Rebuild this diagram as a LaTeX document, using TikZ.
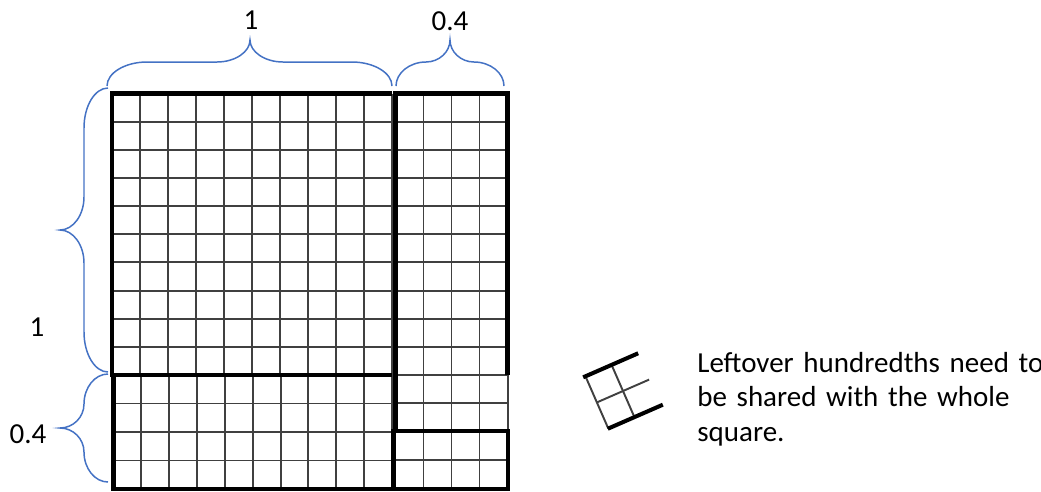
\documentclass[tikz,border=0pt]{standalone}
\usepackage{fontspec}
\setmainfont{Carlito}
\usepackage{tikz}
\usetikzlibrary{positioning}
\definecolor{braceblue}{RGB}{68, 114, 196}
\definecolor{gridgray}{RGB}{64, 64, 64}
\tikzset{
  gridline/.style = {draw=gridgray, line width=1.1pt},
  edge/.style     = {draw=black, line width=2.3pt},
  brace/.style    = {draw=braceblue, line width=0.85pt},
  lbl/.style      = {font=\fontsize{16.5}{19.8}\selectfont, inner sep=0pt},
  note/.style     = {font=\fontsize{16.5}{19.8}\selectfont, inner sep=0pt,
                     text width=8cm, align=left},
}

\begin{document}
\begin{tikzpicture}[x=0.02cm, y=-0.02cm]

  \useasboundingbox (0,0) rectangle (1041,491);

  %% Whole square, 10 x 10
  \foreach \i in {1,...,9} {
    \draw[gridline] (112+28*\i,93.5) -- (112+28*\i,375);
    \draw[gridline] (112,93.5+28.15*\i) -- (392,93.5+28.15*\i);
  }
  \draw[gridline] (392,93.5) -- (392,375);

  %% Bottom strip, 10 x 4
  \foreach \i in {1,...,9}
    \draw[gridline] (113.5+27.85*\i,375) -- (113.5+27.85*\i,489);
  \foreach \j in {1,2,3}
    \draw[gridline] (113.5,375+28.5*\j) -- (392,375+28.5*\j);
  \draw[gridline] (392,375) -- (392,489);

  %% Right strip, 4 x 10 plus leftover rows
  \foreach \i in {1,2,3}
    \draw[gridline] (395.5+28*\i,93.5) -- (395.5+28*\i,489);
  \foreach \j in {1,...,10}
    \draw[gridline] (395.5,93.5+28.15*\j) -- (507.5,93.5+28.15*\j);
  \draw[gridline] (395.5,403) -- (508,403);
  \draw[gridline] (394,460) -- (508,460);
  \draw[gridline] (508,375) -- (508,431);

  %% Thick outlines
  \draw[edge] (392,93.5) -- (112,93.5) -- (112,375) -- (392,375);
  \draw[edge] (392,375) -- (113.5,375) -- (113.5,489) -- (392,489);
  \draw[edge] (395.5,431) -- (395.5,93.5) -- (507.5,93.5) -- (507.5,375);
  \draw[edge] (393.5,431) rectangle (508,489);

  %% Braces
  \draw[brace] (107,86) .. controls (107,73) and (125,62) .. (147,62)
    -- (217,62) .. controls (235,62) and (250,52) .. (250,40)
    .. controls (250,52) and (265,62) .. (283,62)
    -- (352,62) .. controls (374,62) and (392,73) .. (392,86);
  \draw[brace] (396,86) .. controls (396,73) and (409.5,62) .. (426,62)
    .. controls (439,62) and (450,52) .. (450,40)
    .. controls (450,52) and (461,62) .. (474,62)
    .. controls (490.5,62) and (504,73) .. (504,86);
  \draw[brace] (108,88) .. controls (94.8,88) and (84,106) .. (84,128)
    -- (84,197) .. controls (84,215) and (73.2,230) .. (60,230)
    .. controls (73.2,230) and (84,245) .. (84,263)
    -- (84,332) .. controls (84,354) and (94.8,372) .. (108,372);
  \draw[brace] (108,374) .. controls (94.8,374) and (84,387.5) .. (84,404)
    .. controls (84,417.2) and (73.2,428) .. (60,428)
    .. controls (73.2,428) and (84,438.8) .. (84,452)
    .. controls (84,468.5) and (94.8,482) .. (108,482);

  %% Labels
  \node[lbl] (t1) at (251,20)  {1};
  \node[lbl] (t2) at (450,21)  {0.4};
  \node[lbl] (l1) at (37,327)  {1};
  \node[lbl] (l2) at (28,434)  {0.4};

  %% Tilted leftover piece
  \begin{scope}[shift={(623,391)}, rotate=23.6]
    \draw[gridline] (-28.5,-28.5) -- (-28.5,28.5);
    \draw[gridline] (0,-28.5) -- (0,28.5);
    \draw[gridline] (-28.5,0) -- (28.5,0);
    \draw[edge] (-31,-28.5) -- (29,-28.5);
    \draw[edge] (-29,28.5) -- (31,28.5);
  \end{scope}

  \node[note, anchor=base west] (msg) at (697,372)
    {Leftover hundredths need to\\be shared with the whole\\square.};

\end{tikzpicture}
\end{document}
